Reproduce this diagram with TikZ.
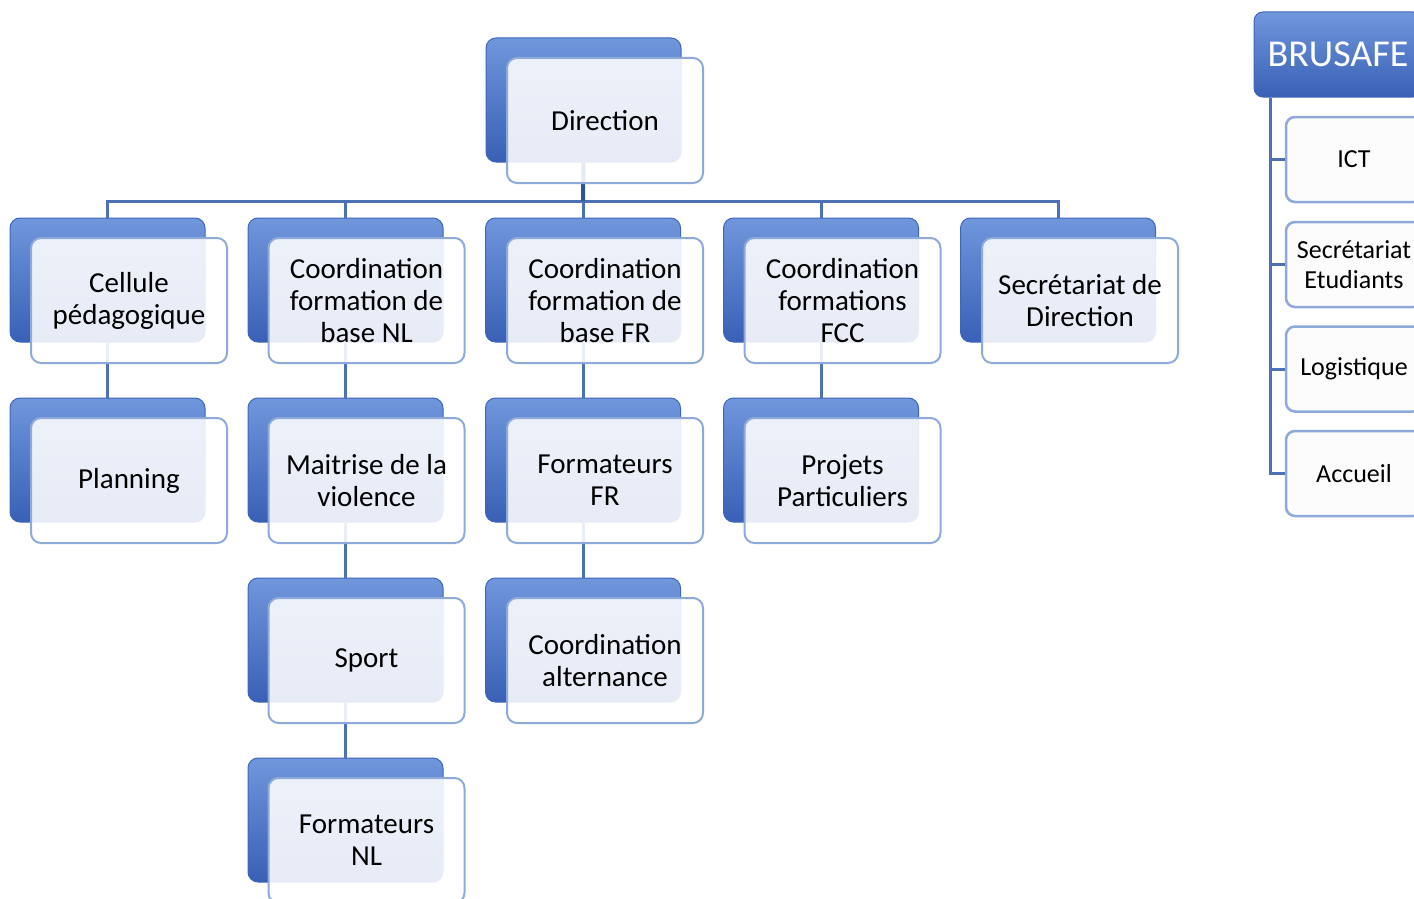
\documentclass[tikz,border=0pt]{standalone}
\usepackage{fontspec}
\setmainfont{Carlito}
\definecolor{bbtop}{HTML}{7096DC}
\definecolor{bbbot}{HTML}{3960B5}
\definecolor{bbdraw}{HTML}{3F66B8}
\definecolor{fbdraw}{HTML}{8EAADB}
\definecolor{linkc}{HTML}{4E71B6}
\definecolor{darkc}{HTML}{2E5599}
\definecolor{boxfill}{HTML}{FCFCFC}
\begin{document}
\begin{tikzpicture}[x=1pt,y=-1pt,
 backbox/.style={rounded corners=10pt, minimum width=195pt, minimum height=124pt, top color=bbtop, bottom color=bbbot, draw=bbdraw, line width=1pt, inner sep=0pt},
 frontbox/.style={rounded corners=10pt, minimum width=196pt, minimum height=125pt, fill=white, fill opacity=0.88, text opacity=1, draw=fbdraw, line width=2pt, align=center, font=\fontsize{29}{32}\selectfont, inner sep=0pt},
 headbox/.style={rounded corners=9pt, minimum width=168pt, minimum height=85pt, top color=bbtop, bottom color=bbbot, draw=bbdraw, line width=1pt, inner sep=0pt, text=white, font=\fontsize{38}{40}\selectfont},
 sidebox/.style={rounded corners=9pt, minimum width=136pt, minimum height=85pt, fill=boxfill, draw=fbdraw, line width=2.5pt, align=center, font=\fontsize{26}{30}\selectfont, inner sep=0pt},
 link/.style={draw=linkc, line width=3pt},
]
\useasboundingbox (0,0) rectangle (1414,899);
\clip (0,0) rectangle (1414,899);
\fill[white] (0,0) rectangle (1414,899);

% back boxes
\node[backbox] (dirB) at (583.5,100) {};
\node[backbox] (c1B) at (107.5,280) {};
\node[backbox] (c2B) at (345.5,280) {};
\node[backbox] (c3B) at (583,280) {};
\node[backbox] (c4B) at (821,280) {};
\node[backbox] (c5B) at (1058,280) {};
\node[backbox] (planB) at (107.5,460) {};
\node[backbox] (violB) at (345.5,460) {};
\node[backbox] (ffrB) at (583,460) {};
\node[backbox] (projB) at (821,460) {};
\node[backbox] (sportB) at (345.5,640) {};
\node[backbox] (altB) at (583,640) {};
\node[backbox] (fnlB) at (345.5,820) {};

% connectors
\coordinate (bar) at (583,201);
\draw[link] (c1B.north) -- (c1B.north |- bar) -- (c5B.north |- bar) -- (c5B.north);
\draw[link] (c2B.north) -- (c2B.north |- bar);
\draw[link] (c3B.north) -- (c3B.north |- bar);
\draw[link] (c4B.north) -- (c4B.north |- bar);
\draw[draw=darkc, line width=4pt] (dirB.south) -- (bar);
\draw[link] (c1B.south) -- (planB.north);
\draw[link] (c2B.south) -- (violB.north);
\draw[link] (violB.south) -- (sportB.north);
\draw[link] (sportB.south) -- (fnlB.north);
\draw[link] (c3B.south) -- (ffrB.north);
\draw[link] (ffrB.south) -- (altB.north);
\draw[link] (c4B.south) -- (projB.north);

% front boxes
\node[frontbox] (dir) at (605,120.5) {Direction};
\node[frontbox] (c1) at (129,300.5) {Cellule\\pédagogique};
\node[frontbox] (c2) at (366.5,300.5) {Coordination\\formation de\\base NL};
\node[frontbox] (c3) at (605,300.5) {Coordination\\formation de\\base FR};
\node[frontbox] (c4) at (842.5,300.5) {Coordination\\formations\\FCC};
\node[frontbox] (c5) at (1080,300.5) {Secrétariat de\\Direction};
\node[frontbox] (plan) at (129,480.5) {Planning};
\node[frontbox] (viol) at (366.5,480.5) {Maitrise de la\\violence};
\node[frontbox] (ffr) at (605,480.5) {Formateurs\\FR};
\node[frontbox] (proj) at (842.5,480.5) {Projets\\Particuliers};
\node[frontbox] (sport) at (366.5,660.5) {Sport};
\node[frontbox] (alt) at (605,660.5) {Coordination\\alternance};
\node[frontbox] (fnl) at (366.5,840.5) {Formateurs\\NL};

% right panel
\node[headbox] (bru) at (1338,54.5) {BRUSAFE};
\node[sidebox] (ict) at (1354,159.5) {ICT};
\node[sidebox] (sec) at (1354,264.5) {Secrétariat\\Etudiants};
\node[sidebox] (log) at (1354,369) {Logistique};
\node[sidebox] (acc) at (1354,473.5) {Accueil};
\coordinate (spine) at (1270,0);
\draw[link] (bru.south -| spine) -- (acc.west -| spine) -- (acc.west);
\draw[link] (ict.west -| spine) -- (ict.west);
\draw[link] (sec.west -| spine) -- (sec.west);
\draw[link] (log.west -| spine) -- (log.west);
\end{tikzpicture}
\end{document}
